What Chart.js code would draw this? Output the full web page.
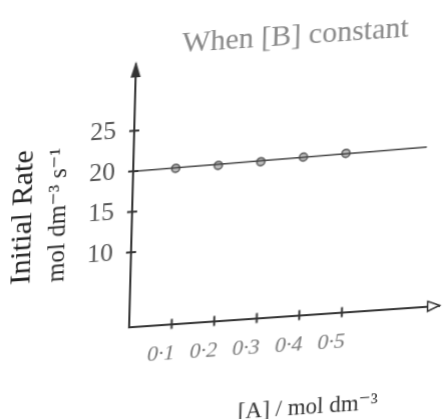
<!DOCTYPE html>
<html>
<head>
<meta charset="utf-8">
<script src="https://cdn.jsdelivr.net/npm/chart.js@4"></script>
<style>
  html, body { margin: 0; padding: 0; background: #fff; overflow: hidden; width: 448px; height: 419px; }
  /* the scanned figure is slightly skewed */
  #wrap { width: 448px; height: 440px; transform-origin: 224px 209.5px; transform: matrix(1, -0.069, -0.026, 1, 0, 0); }
  canvas { display: block; }
</style>
</head>
<body>
<div id="wrap"><canvas id="myChart" width="448" height="440"></canvas></div>
<script>
// data
const concA = [0.1, 0.2, 0.3, 0.4, 0.5];
const rate = [20.0, 20.0, 20.1, 20.3, 20.4];
const lineX = [0, 0.69];
const lineY = [20.0, 20.5];
const xTicks = [0.1, 0.2, 0.3, 0.4, 0.5];
const xLabels = ['0·1', '0·2', '0·3', '0·4', '0·5'];
const yTicks = [10, 15, 20, 25];
const titleText = 'When [B] constant';
const xTitle = '[A] / mol dm⁻³';
const yTitle = ['Initial Rate', 'mol dm⁻³ s⁻¹'];

const serif = '"Liberation Serif", "DejaVu Serif", serif';

// crossing tick marks, arrow heads, titles
const axisExtras = {
  id: 'axisExtras',
  afterDraw(chart) {
    const ctx = chart.ctx;
    const a = chart.chartArea;
    const x = chart.scales.x, y = chart.scales.y;
    ctx.save();
    ctx.strokeStyle = '#333';
    ctx.fillStyle = '#333';
    ctx.lineWidth = 2;
    yTicks.forEach(v => {
      const py = y.getPixelForValue(v);
      ctx.beginPath();
      ctx.moveTo(a.left - 5, py);
      ctx.lineTo(a.left + 5, py);
      ctx.stroke();
    });
    xTicks.forEach(v => {
      const px = x.getPixelForValue(v);
      ctx.beginPath();
      ctx.moveTo(px, a.bottom - 5);
      ctx.lineTo(px, a.bottom + 5);
      ctx.stroke();
    });
    // y arrow (filled)
    ctx.beginPath();
    ctx.moveTo(a.left, a.top - 3);
    ctx.lineTo(a.left - 5, a.top + 13);
    ctx.lineTo(a.left + 5, a.top + 13);
    ctx.closePath();
    ctx.fill();
    // x arrow (open)
    ctx.lineWidth = 1.5;
    ctx.beginPath();
    ctx.moveTo(a.right, a.bottom);
    ctx.lineTo(a.right - 12, a.bottom - 5);
    ctx.lineTo(a.right - 12, a.bottom + 5);
    ctx.closePath();
    ctx.fillStyle = '#fff';
    ctx.fill();
    ctx.stroke();

    ctx.textAlign = 'center';
    ctx.textBaseline = 'middle';
    // chart title
    ctx.font = '30px ' + serif;
    ctx.fillStyle = '#888';
    ctx.fillText(titleText, a.left + 159, a.top - 17);
    // x title
    ctx.font = '23px ' + serif;
    ctx.fillStyle = '#333';
    ctx.fillText(xTitle, a.left + 181, a.bottom + 93);
    // y title, two lines
    ctx.translate(41, a.bottom - 117);
    ctx.rotate(-Math.PI / 2);
    ctx.font = '30px ' + serif;
    ctx.fillStyle = '#222';
    ctx.fillText(yTitle[0], 0, -18);
    ctx.font = '25px ' + serif;
    ctx.fillStyle = '#2a2a2a';
    ctx.fillText(yTitle[1], 0, 17);
    ctx.restore();
  }
};

const ctx = document.getElementById('myChart').getContext('2d');

const myChart = new Chart(ctx, {
  type: 'scatter',
  data: {
    datasets: [{
      data: lineX.map((v, i) => ({ x: v, y: lineY[i] })),
      showLine: true,
      borderColor: '#444',
      borderWidth: 1.5,
      pointRadius: 0
    }, {
      data: concA.map((v, i) => ({ x: v, y: rate[i] })),
      showLine: false,
      pointRadius: 4,
      pointBorderWidth: 1.5,
      pointBorderColor: '#555',
      pointBackgroundColor: '#bbb'
    }]
  },
  options: {
    responsive: false,
    animation: false,
    layout: { padding: { left: 0, top: 58, right: 2, bottom: 0 } },
    plugins: {
      legend: { display: false },
      tooltip: { enabled: false }
    },
    scales: {
      x: {
        type: 'linear',
        min: 0,
        max: 0.73,
        afterFit: s => { s.height = 119.5; },
        afterBuildTicks: s => { s.ticks = xTicks.map(v => ({ value: v })); },
        grid: { display: false, drawTicks: false },
        border: { display: true, color: '#333', width: 2 },
        ticks: {
          padding: 17,
          labelOffset: -10,
          color: '#777',
          font: { family: serif, size: 22, style: 'italic' },
          callback: (v, i) => xLabels[i]
        }
      },
      y: {
        min: 0.8,
        max: 33.2,
        afterFit: s => { s.width = 132; },
        afterBuildTicks: s => { s.ticks = yTicks.map(v => ({ value: v })); },
        grid: { display: false, drawTicks: false },
        border: { display: true, color: '#333', width: 2 },
        ticks: {
          padding: 18,
          color: '#555',
          font: { family: serif, size: 26 }
        }
      }
    }
  },
  plugins: [axisExtras]
});
</script>
</body>
</html>
